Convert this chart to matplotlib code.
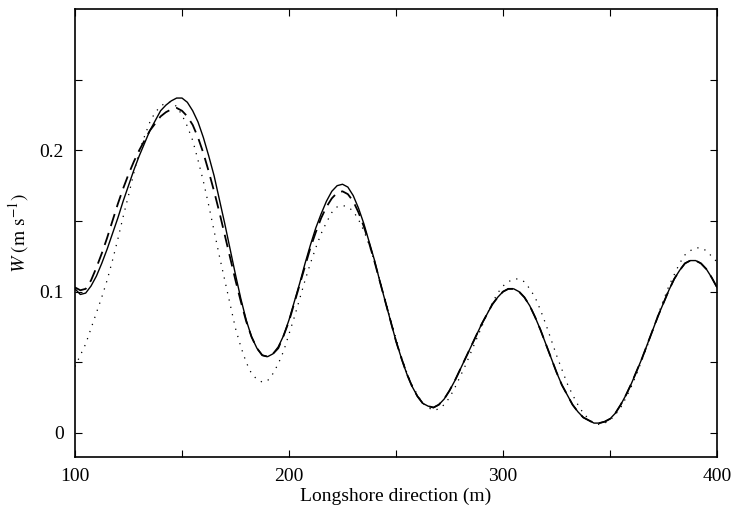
import matplotlib
matplotlib.use("Agg")
import matplotlib.pyplot as plt
import numpy as np

plt.rcParams['font.family'] = ['Liberation Serif', 'DejaVu Serif']
plt.rcParams['mathtext.fontset'] = 'stix'

# longshore position (m), read every 2.5 m
x = np.arange(100, 400.1, 2.5)

# solid curve
w_solid = [0.102, 0.098, 0.099, 0.104, 0.111, 0.120, 0.130, 0.141, 0.152, 0.164,
           0.175, 0.186, 0.196, 0.205, 0.214, 0.221, 0.228, 0.232, 0.235, 0.237,
           0.237, 0.234, 0.228, 0.220, 0.209, 0.196, 0.182, 0.165, 0.148, 0.130,
           0.112, 0.095, 0.080, 0.068, 0.060, 0.055, 0.054, 0.056, 0.061, 0.069,
           0.080, 0.093, 0.106, 0.120, 0.133, 0.145, 0.155, 0.164, 0.171, 0.175,
           0.176, 0.174, 0.168, 0.159, 0.148, 0.135, 0.122, 0.107, 0.093, 0.079,
           0.065, 0.053, 0.042, 0.033, 0.026, 0.021, 0.019, 0.018, 0.020, 0.024,
           0.030, 0.037, 0.045, 0.053, 0.061, 0.069, 0.077, 0.084, 0.091, 0.096,
           0.100, 0.102, 0.102, 0.100, 0.096, 0.090, 0.082, 0.073, 0.063, 0.053,
           0.043, 0.034, 0.027, 0.020, 0.015, 0.011, 0.009, 0.007, 0.007, 0.008,
           0.010, 0.014, 0.020, 0.027, 0.035, 0.044, 0.053, 0.063, 0.073, 0.083,
           0.092, 0.101, 0.109, 0.115, 0.120, 0.122, 0.122, 0.120, 0.116, 0.110,
           0.103]

# dashed curve
w_dashed = [0.103, 0.101, 0.102, 0.108, 0.117, 0.127, 0.138, 0.150, 0.162, 0.173,
            0.183, 0.192, 0.200, 0.207, 0.214, 0.219, 0.224, 0.227, 0.229, 0.230,
            0.228, 0.224, 0.218, 0.209, 0.198, 0.185, 0.171, 0.156, 0.140, 0.124,
            0.108, 0.093, 0.079, 0.068, 0.060, 0.055, 0.054, 0.056, 0.060, 0.069,
            0.079, 0.092, 0.105, 0.118, 0.131, 0.142, 0.152, 0.160, 0.166, 0.170,
            0.171, 0.169, 0.164, 0.156, 0.146, 0.134, 0.121, 0.107, 0.093, 0.079,
            0.065, 0.053, 0.042, 0.033, 0.026, 0.021, 0.019, 0.018, 0.020, 0.024,
            0.030, 0.037, 0.045, 0.053, 0.061, 0.069, 0.077, 0.084, 0.091, 0.096,
            0.100, 0.102, 0.102, 0.100, 0.096, 0.090, 0.082, 0.073, 0.063, 0.053,
            0.043, 0.034, 0.027, 0.020, 0.015, 0.011, 0.009, 0.007, 0.007, 0.008,
            0.010, 0.014, 0.020, 0.027, 0.035, 0.044, 0.053, 0.063, 0.073, 0.083,
            0.092, 0.101, 0.109, 0.115, 0.120, 0.122, 0.122, 0.120, 0.116, 0.110,
            0.103]

# dotted curve
w_dotted = [0.047, 0.055, 0.063, 0.074, 0.085, 0.096, 0.108, 0.122, 0.137, 0.153,
            0.168, 0.184, 0.199, 0.210, 0.220, 0.227, 0.231, 0.234, 0.234, 0.231,
            0.225, 0.217, 0.207, 0.193, 0.178, 0.161, 0.143, 0.125, 0.108, 0.091,
            0.074, 0.061, 0.050, 0.042, 0.038, 0.036, 0.037, 0.042, 0.049, 0.058,
            0.070, 0.082, 0.095, 0.108, 0.120, 0.131, 0.141, 0.149, 0.156, 0.160,
            0.161, 0.160, 0.157, 0.151, 0.143, 0.133, 0.121, 0.108, 0.094, 0.080,
            0.067, 0.054, 0.043, 0.034, 0.027, 0.021, 0.018, 0.016, 0.017, 0.020,
            0.025, 0.032, 0.040, 0.048, 0.057, 0.066, 0.075, 0.084, 0.092, 0.099,
            0.104, 0.107, 0.109, 0.109, 0.107, 0.102, 0.096, 0.087, 0.077, 0.066,
            0.055, 0.045, 0.035, 0.027, 0.020, 0.014, 0.010, 0.007, 0.006, 0.007,
            0.009, 0.013, 0.018, 0.025, 0.033, 0.042, 0.052, 0.062, 0.073, 0.084,
            0.094, 0.104, 0.112, 0.120, 0.126, 0.129, 0.131, 0.131, 0.129, 0.125,
            0.121]

fig = plt.figure(figsize=(7.33, 5.15), dpi=100)
ax = fig.add_axes([0.1023, 0.1126, 0.8759, 0.8699])

ax.plot(x, w_solid, '-', color='black', linewidth=1.0)
ax.plot(x, w_dashed, color='black', linewidth=1.3, linestyle=(0, (7, 4)))
ax.plot(x, w_dotted, color='black', linewidth=0.9, linestyle=(0, (1, 5)))

ax.set_xlim(100, 400)
ax.set_ylim(-0.017, 0.3)
ax.set_xticks(np.arange(100, 401, 50))
ax.set_xticklabels(['100', '', '200', '', '300', '', '400'])
ax.set_yticks(np.arange(0, 0.3, 0.05))
ax.set_yticklabels(['0', '', '0.1', '', '0.2', ''])
ax.tick_params(direction='in', length=5, width=0.8, top=True, right=True,
               labelsize=14, pad=8)
for s in ax.spines.values():
    s.set_linewidth(1.2)

ax.set_xlabel('Longshore direction (m)', fontsize=14, labelpad=2)
ax.set_ylabel(r'$W\ (\mathrm{m\ s^{-1}})$', fontsize=14, labelpad=6)

fig.savefig('out.png', dpi=100, facecolor='white')
